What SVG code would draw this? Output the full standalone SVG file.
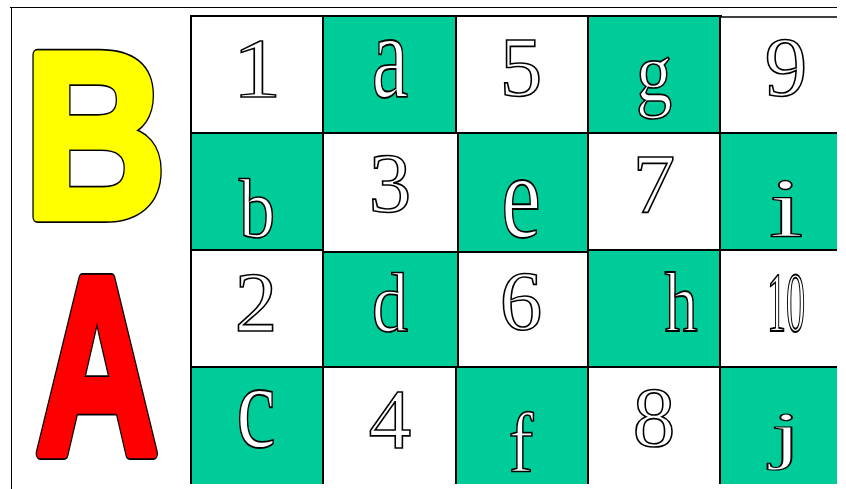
<svg xmlns="http://www.w3.org/2000/svg" width="846" height="489" viewBox="0 0 846 489">
<style>
.g{fill:#00CC99}
.w{fill:#FFFFFF}
.ln{stroke:#000;stroke-width:2;fill:none}
.t{font-family:"Liberation Serif","Times New Roman",serif;font-size:85px;fill:#fff;stroke:#000;stroke-width:1.6px;vector-effect:non-scaling-stroke;text-anchor:middle}
.big{font-family:"Liberation Sans",Arial,sans-serif;font-weight:bold;vector-effect:non-scaling-stroke;text-anchor:middle;stroke-linejoin:round}
.under{fill:#000;stroke:#000;stroke-width:11px}
</style>
<rect x="0" y="0" width="846" height="489" fill="#fff"/>
<g id="frame">
<path d="M10 7.5H837M11.5 7V489" stroke="#000" stroke-width="1" fill="none"/>
</g>
<g id="letterB" transform="translate(95,217) scale(0.83,1)">
<text class="big under" font-size="236" x="0" y="0">B</text>
<text class="big" font-size="236" x="0" y="0" fill="#FFFF00" stroke="#FFFF00" stroke-width="8">B</text>
</g>
<g id="letterA" transform="translate(97,453) scale(0.67,1)">
<text class="big under" font-size="253" x="0" y="0">A</text>
<text class="big" font-size="253" x="0" y="0" fill="#FF0000" stroke="#FF0000" stroke-width="8">A</text>
</g>
<g id="cells">
<rect id="c1" class="w" x="191" y="16" width="132" height="117"/>
<rect id="ca" class="g" x="323" y="16" width="133" height="117"/>
<rect id="c5" class="w" x="456" y="16" width="132" height="117"/>
<rect id="cg" class="g" x="588" y="16" width="132" height="117"/>
<rect id="c9" class="w" x="720" y="17" width="117" height="116"/>
<rect id="cb" class="g" x="191" y="133" width="132" height="117"/>
<rect id="c3" class="w" x="323" y="133" width="135" height="119"/>
<rect id="ce" class="g" x="458" y="133" width="130" height="119"/>
<rect id="c7" class="w" x="588" y="133" width="132" height="117"/>
<rect id="ci" class="g" x="720" y="133" width="117" height="117"/>
<rect id="c2" class="w" x="191" y="250" width="132" height="117"/>
<rect id="cd" class="g" x="323" y="252" width="135" height="115"/>
<rect id="c6" class="w" x="458" y="252" width="130" height="115"/>
<rect id="ch" class="g" x="588" y="250" width="132" height="117"/>
<rect id="c10" class="w" x="720" y="250" width="117" height="117"/>
<rect id="cc" class="g" x="191" y="367" width="132" height="117"/>
<rect id="c4" class="w" x="323" y="367" width="133" height="117"/>
<rect id="cf" class="g" x="456" y="367" width="132" height="117"/>
<rect id="c8" class="w" x="588" y="367" width="132" height="117"/>
<rect id="cj" class="g" x="720" y="367" width="117" height="117"/>
</g>
<g id="gridlines" class="ln">
<path d="M191 16H722"/>
<path d="M720 17H837" stroke-width="1.5"/>
<path d="M191 133H837"/>
<path d="M191 250H323M323 252H588M588 250H837"/>
<path d="M191 367H837"/>
<path d="M191 15V484"/>
<path d="M323 16V484"/>
<path d="M456 16V133M458 133V367M456 367V484"/>
<path d="M588 16V484"/>
<path d="M720 16V484"/>
</g>
<g id="labels">
<g id="n1"><text class="t" transform="translate(257,97) scale(1.15,1)">1</text></g>
<g id="na"><text class="t" transform="translate(390,97) scale(0.97,1.42)">a</text></g>
<g id="n5"><text class="t" transform="translate(521,96)">5</text></g>
<g id="ng"><text class="t" transform="translate(654,101) scale(0.85,1)">g</text></g>
<g id="n9"><text class="t" transform="translate(786,96)">9</text></g>
<g id="nb"><text class="t" transform="translate(257,237) scale(0.85,1)">b</text></g>
<g id="n3"><text class="t" transform="translate(390,212)">3</text></g>
<g id="ne"><text class="t" transform="translate(521,237) scale(1.05,1.42)">e</text></g>
<g id="n7"><text class="t" transform="translate(654,213)">7</text></g>
<g id="ni"><text class="t" transform="translate(786,237) scale(1.45,1)">i</text></g>
<g id="n2"><text class="t" transform="translate(256,331)">2</text></g>
<g id="nd"><text class="t" transform="translate(390,331) scale(0.85,1)">d</text></g>
<g id="n6"><text class="t" transform="translate(521,330)">6</text></g>
<g id="nh"><text class="t" transform="translate(681,331) scale(0.78,1)">h</text></g>
<g id="n10"><text class="t" transform="translate(786,331) scale(0.45,1)">10</text></g>
<g id="nc"><text class="t" transform="translate(256,447) scale(1.05,1.42)">c</text></g>
<g id="n4"><text class="t" transform="translate(390,448)">4</text></g>
<g id="nf"><text class="t" transform="translate(521,471) scale(0.87,1)">f</text></g>
<g id="n8"><text class="t" transform="translate(654,446)">8</text></g>
<g id="nj"><text class="t" transform="translate(786,456) scale(1.3,0.75)">j</text></g>
</g>
</svg>
